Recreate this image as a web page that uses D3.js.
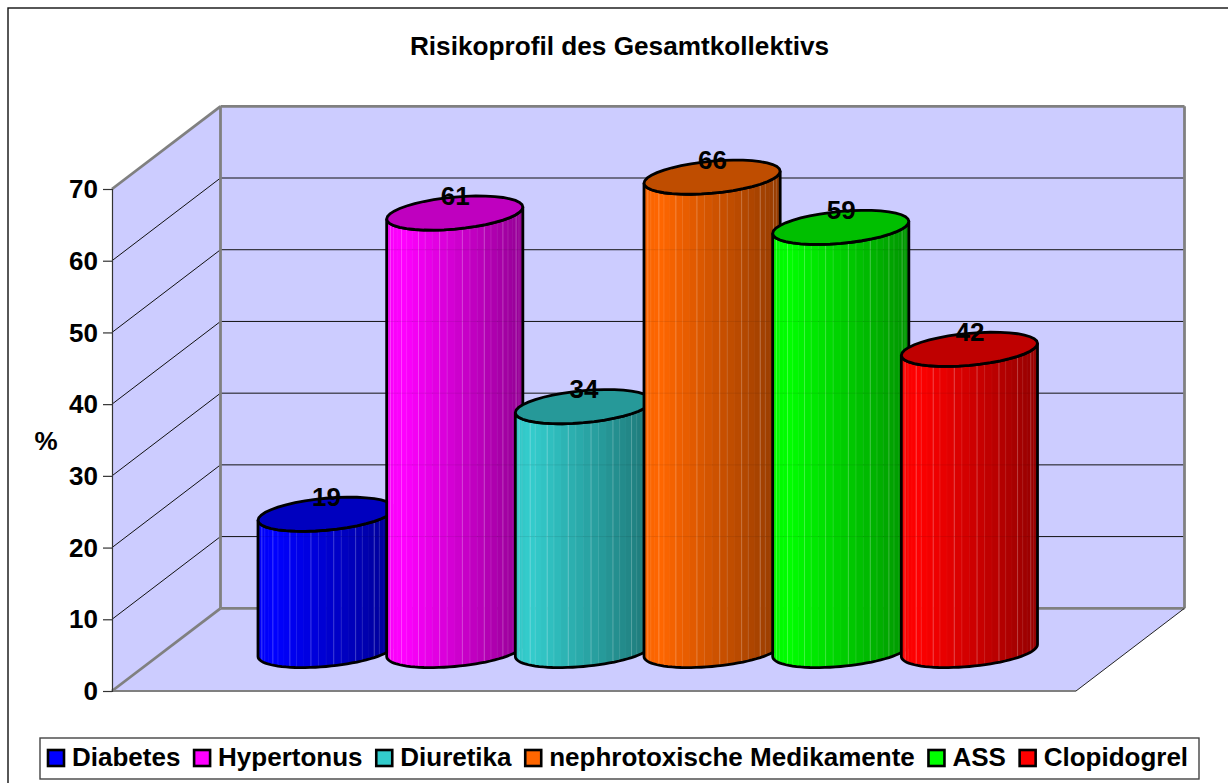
<!DOCTYPE html>
<html>
<head>
<meta charset="utf-8">
<script src="https://cdn.jsdelivr.net/npm/d3@7"></script>
<style>
	html, body { margin: 0; padding: 0; background: #fff; overflow: hidden; }
	text { font-family: "Liberation Sans", Arial, sans-serif; font-weight: bold; fill: #000; }
</style>
</head>
<body>
<div id="chart"></div>
<script>
var title = 'Risikoprofil des Gesamtkollektivs';
var yLabel = '%';
var categories = ['Diabetes', 'Hypertonus', 'Diuretika', 'nephrotoxische Medikamente', 'ASS', 'Clopidogrel'];
var values = [19, 61, 34, 66, 59, 42];
var colors = ['#0000ff', '#ff00ff', '#33cccc', '#ff6600', '#00ff00', '#ff0000'];
var yTicks = [0, 10, 20, 30, 40, 50, 60, 70];

var width = 1228, height = 783;
var wallColor = '#ccccff', edgeColor = '#808080';

// plot box, front left corner and how far the 3d depth shifts things
var left = 112, right = 1076, bottom = 691, top70 = 189;
var depthX = 108.5, depthY = 82.7;

var svg = d3.select('#chart').append('svg').attr('width', width).attr('height', height).style('display', 'block');
var defs = svg.append('defs');

svg.append('rect').attr('x', 8).attr('y', 8).attr('width', width).attr('height', height)
	.attr('fill', '#fff').attr('stroke', '#111').attr('stroke-width', 1.4);

svg.append('text').attr('x', 619.5).attr('y', 55).attr('text-anchor', 'middle')
	.style('font-size', '26.2px').text(title);

var yScale = d3.scaleLinear().domain([0, 70]).range([bottom, top70]);

var xScale = d3.scaleBand().domain(categories).range([258, 1030]);
var barWidth = xScale.bandwidth() + 7.5;

function poly(points) {
	return 'M' + points.map(function(p) { return p.join(','); }).join('L') + 'Z';
}

// walls and floor
var walls = svg.append('g');
walls.append('path')
	.attr('d', poly([[left, yScale(0)], [left + depthX, yScale(0) - depthY], [left + depthX, yScale(70) - depthY], [left, yScale(70)]]))
	.attr('fill', wallColor);
walls.append('path')
	.attr('d', poly([[left, yScale(0)], [right, yScale(0)], [right + depthX, yScale(0) - depthY], [left + depthX, yScale(0) - depthY]]))
	.attr('fill', wallColor);
walls.append('rect')
	.attr('x', left + depthX).attr('y', yScale(70) - depthY)
	.attr('width', right - left).attr('height', yScale(0) - yScale(70))
	.attr('fill', wallColor);

// gridlines, side wall and back wall
var gridValues = yTicks.filter(function(d) { return d > 0 && d < 70; });
walls.selectAll('line.grid-back').data(gridValues).enter().append('line')
	.attr('class', 'grid-back')
	.attr('x1', left + depthX).attr('x2', right + depthX)
	.attr('y1', function(d) { return yScale(d) - depthY; })
	.attr('y2', function(d) { return yScale(d) - depthY; })
	.attr('stroke', '#111').attr('stroke-width', 1);
walls.selectAll('line.grid-side').data(gridValues).enter().append('line')
	.attr('class', 'grid-side')
	.attr('x1', left).attr('x2', left + depthX)
	.attr('y1', function(d) { return yScale(d); })
	.attr('y2', function(d) { return yScale(d) - depthY; })
	.attr('stroke', '#111').attr('stroke-width', 1);

// grey frame of the walls
[
	[[left, yScale(70)], [left + depthX, yScale(70) - depthY]],
	[[left + depthX, yScale(70) - depthY], [right + depthX, yScale(70) - depthY]],
	[[right + depthX, yScale(70) - depthY], [right + depthX, yScale(0) - depthY]],
	[[left + depthX, yScale(70) - depthY], [left + depthX, yScale(0) - depthY]],
	[[left + depthX, yScale(0) - depthY], [right + depthX, yScale(0) - depthY]],
	[[left, yScale(0)], [left + depthX, yScale(0) - depthY]]
].forEach(function(e) {
	walls.append('line')
		.attr('x1', e[0][0]).attr('y1', e[0][1]).attr('x2', e[1][0]).attr('y2', e[1][1])
		.attr('stroke', edgeColor).attr('stroke-width', 2.8);
});
walls.append('line')
	.attr('x1', left).attr('y1', yScale(0)).attr('x2', right).attr('y2', yScale(0))
	.attr('stroke', edgeColor).attr('stroke-width', 2);
walls.append('line')
	.attr('x1', right).attr('y1', yScale(0)).attr('x2', right + depthX).attr('y2', yScale(0) - depthY)
	.attr('stroke', '#222').attr('stroke-width', 1);

// Add the Y Axis
var yAxis = d3.axisLeft(yScale).tickValues(yTicks).tickSize(9).tickPadding(5);
var axisG = svg.append('g').attr('transform', 'translate(' + left + ',0)').call(yAxis);
axisG.select('.domain').attr('stroke', '#333').attr('stroke-width', 1.2);
axisG.selectAll('.tick line').attr('stroke', '#333').attr('stroke-width', 1.2);
axisG.selectAll('.tick text').style('font-size', '26px').style('font-family', '"Liberation Sans", Arial, sans-serif')
	.attr('dy', '0.33em');

svg.append('text').attr('x', 46).attr('y', 450).attr('text-anchor', 'middle')
	.style('font-size', '26px').text(yLabel);

// cylinders
var rimLift = 6, rimHalf = 16;   // tilt and half height of the end ellipses
var floorY = 650.5;              // centre of the bottom ellipse
var facetCount = 28;

// point on a tilted end ellipse
function rim(cx, cy, t) {
	var a = barWidth / 2;
	return [cx + a * Math.cos(t), cy + rimHalf * Math.sin(t) - rimLift * Math.cos(t)];
}

function rimPoints(cx, cy, from, to) {
	return d3.range(0, 41).map(function(i) {
		return rim(cx, cy, from + (to - from) * i / 40);
	});
}

function shade(color, f) {
	var c = d3.rgb(color);
	return d3.rgb(c.r * f, c.g * f, c.b * f).formatHex();
}

// brightness over the width of the cylinder
var shadeScale = d3.scaleLinear().domain([0, 0.12, 1]).range([0.97, 1, 0.58]);

var line = d3.line();
var facets = d3.range(facetCount);

var cylinders = svg.selectAll('g.cylinder')
	.data(categories.map(function(c, i) { return {name: c, value: values[i], color: colors[i], i: i}; }))
	.enter().append('g').attr('class', 'cylinder');

cylinders.each(function(d) {
	var g = d3.select(this);
	var x0 = xScale(d.name);
	var cx = x0 + barWidth / 2;
	var cyTop = floorY - (bottom - yScale(d.value));
	var a = barWidth / 2;

	var outline = [rim(cx, cyTop, Math.PI)]
		.concat(rimPoints(cx, floorY, Math.PI, 0))
		.concat([rim(cx, cyTop, 0)])
		.concat(rimPoints(cx, cyTop, 0, Math.PI));
	var outlinePath = line(outline) + 'Z';

	defs.append('clipPath').attr('id', 'clip-' + d.i).append('path').attr('d', outlinePath);

	var body = g.append('g').attr('clip-path', 'url(#clip-' + d.i + ')');

	function facetX(j) {
		return cx - a * Math.cos(Math.PI * j / facetCount);
	}

	body.selectAll('rect').data(facets).enter().append('rect')
		.attr('x', function(j) { return facetX(j); })
		.attr('y', cyTop - 30)
		.attr('width', function(j) { return facetX(j + 1) - facetX(j) + 0.5; })
		.attr('height', floorY - cyTop + 60)
		.attr('fill', function(j) {
			return shade(d.color, shadeScale((facetX(j) + facetX(j + 1)) / 2 / barWidth - x0 / barWidth));
		});

	// lighter seams between the facets
	body.selectAll('line.seam').data(facets.slice(1)).enter().append('line')
		.attr('class', 'seam')
		.attr('x1', function(j) { return facetX(j); })
		.attr('x2', function(j) { return facetX(j); })
		.attr('y1', cyTop - 30).attr('y2', floorY + 30)
		.attr('stroke', '#fff')
		.attr('stroke-opacity', function(j) { return j % 3 === 0 ? 0.25 : (j % 3 === 1 ? 0.12 : 0.03); })
		.attr('stroke-width', 1);

	// gridlines show faintly through the body
	body.selectAll('line.through').data(gridValues).enter().append('line')
		.attr('class', 'through')
		.attr('x1', x0).attr('x2', x0 + barWidth)
		.attr('y1', function(v) { return yScale(v) - depthY; })
		.attr('y2', function(v) { return yScale(v) - depthY; })
		.attr('stroke', '#000').attr('stroke-opacity', 0.08);

	g.append('path').attr('d', outlinePath)
		.attr('fill', 'none').attr('stroke', '#000').attr('stroke-width', 2.8);

	// top face
	g.append('path').attr('d', line(rimPoints(cx, cyTop, 0, 2 * Math.PI)) + 'Z')
		.attr('fill', shade(d.color, 0.75)).attr('stroke', '#000').attr('stroke-width', 2.8);
});

// value labels go on top of everything
cylinders.append('text')
	.attr('x', function(d) { return xScale(d.name) + barWidth / 2 + 0.5; })
	.attr('y', function(d) { return floorY - (bottom - yScale(d.value)) - 8.5; })
	.attr('text-anchor', 'middle')
	.style('font-size', '26px')
	.text(function(d) { return d.value; });

// legend
var legend = svg.append('g');
legend.append('rect').attr('x', 40).attr('y', 738).attr('width', 1159).attr('height', 41)
	.attr('fill', '#fff').attr('stroke', '#444').attr('stroke-width', 1.4);

var legendX = 48;
categories.forEach(function(c, i) {
	legend.append('rect').attr('x', legendX).attr('y', 750).attr('width', 16).attr('height', 16)
		.attr('fill', colors[i]).attr('stroke', '#000').attr('stroke-width', 2.6);
	var t = legend.append('text').attr('x', legendX + 24).attr('y', 766)
		.style('font-size', '26px').text(c);
	legendX += 24 + t.node().getComputedTextLength() + 13.7;
});
</script>
</body>
</html>
